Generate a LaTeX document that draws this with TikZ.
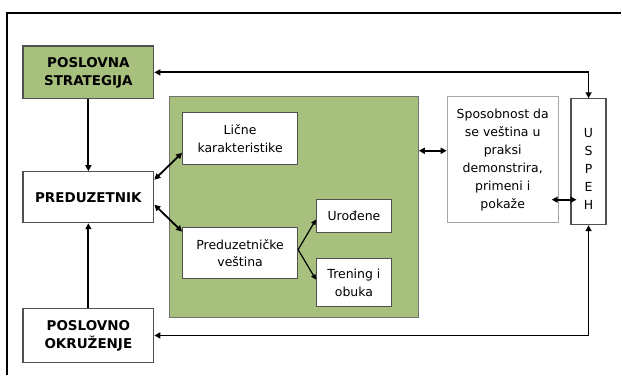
\documentclass[tikz,border=0pt]{standalone}
\usepackage{fontspec}
\setmainfont{DejaVu Sans}
\usepackage{tikz}
\usetikzlibrary{arrows.meta}

\definecolor{sgreen}{RGB}{168,192,126}
\definecolor{sborder}{RGB}{80,80,80}

\tikzset{
    box/.style={draw=sborder, line width=1.2pt, fill=white, inner sep=1pt, align=center,
        font=\fontsize{12.5}{18}\selectfont},
    capsbox/.style={box, font=\fontsize{13.5}{18}\selectfont\bfseries},
    conn/.style={line width=1.8pt, arrows={-Triangle[length=6pt,width=6pt]}},
    dconn/.style={line width=1.8pt, arrows={Triangle[length=6pt,width=6pt]-Triangle[length=6pt,width=6pt]}},
    thinconn/.style={line width=1.2pt, arrows={-Triangle[length=5pt,width=5pt]}},
}

\begin{document}
\begin{tikzpicture}[x=1pt,y=1pt,yscale=-1,xscale=1]
    \path (0,0) rectangle (622,376); %picture size

    %Frame
    \draw [line width=2pt] (7,376) -- (7,13) -- (622,13) ;

    %Green panel
    \node [draw=sborder!80, line width=1pt, fill=sgreen, minimum width=249pt, minimum height=221pt] (panel) at (294.5,207.5) {};

    %Left column
    \node [capsbox, fill=sgreen, minimum width=131pt, minimum height=53pt] (strat) at (88.5,72.5) {POSLOVNA\\STRATEGIJA};
    \node [capsbox, minimum width=131pt, minimum height=51pt] (pred) at (88.5,197.5) {PREDUZETNIK};
    \node [capsbox, minimum width=131pt, minimum height=54pt] (okr) at (88.5,336) {POSLOVNO\\OKRUŽENJE};

    %Inside the panel
    \node [box, minimum width=115pt, minimum height=52pt] (licne) at (240.5,139) {Lične\\karakteristike};
    \node [box, minimum width=115pt, minimum height=51pt] (vest) at (240.5,253.5) {Preduzetničke\\veština};
    \node [box, minimum width=75pt, minimum height=33pt] (urod) at (354.5,216.5) {Urođene};
    \node [box, minimum width=75pt, minimum height=48pt] (tren) at (354.5,283) {Trening i\\obuka};

    %Right column
    \node [box, draw=gray!70, minimum width=111pt, minimum height=126pt] (spos) at (503.5,160) {Sposobnost da\\se veština u\\praksi\\demonstrira,\\primeni i\\pokaže};
    \node [box, minimum width=35pt, minimum height=126pt] (uspeh) at (589.5,162) {\rule{0pt}{23pt}U\\S\\P\\E\\H};

    %Connectors (yshift follows yscale=-1: positive is down)
    \draw [dconn] (strat.east) -| (uspeh.north) ;
    \draw [dconn] (okr.east) -| (uspeh.south) ;
    \draw [conn] (strat) -- (pred) ;
    \draw [conn] (okr) -- (pred) ;
    \draw [dconn] ([yshift=-17.5pt]pred.east) -- ([yshift=14pt]licne.west) ;
    \draw [dconn] ([yshift=7.5pt]pred.east) -- ([yshift=-21.5pt]vest.west) ;
    \draw [thinconn] ([yshift=-3.5pt]vest.east) -- ([yshift=3.5pt]urod.west) ;
    \draw [thinconn] ([yshift=-3.5pt]vest.east) -- ([yshift=-3pt]tren.west) ;
    \draw [dconn] ([yshift=-9pt]spos.west) -- ([yshift=-9pt]spos.west -| panel.east) ;
    \draw [dconn] ([xshift=-7pt,yshift=40pt]spos.east) -- ([xshift=6pt,yshift=40pt]uspeh.west |- spos.east) ;
\end{tikzpicture}
\end{document}
